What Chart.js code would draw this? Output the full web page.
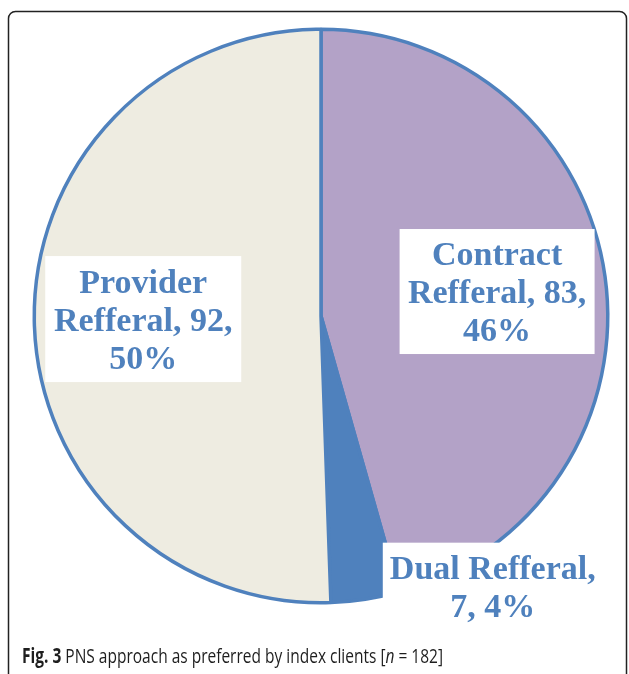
<!DOCTYPE html>
<html>
<head>
<meta charset="utf-8">
<script src="https://cdn.jsdelivr.net/npm/chart.js@4/dist/chart.umd.min.js"></script>
<style>
  html, body { margin: 0; padding: 0; background: #ffffff; }
  #wrap { width: 629px; height: 674px; position: relative; }
</style>
</head>
<body>
<div id="wrap"><canvas id="c" width="629" height="674"></canvas></div>
<script>
// ---- data ----
const categories = ['Contract Refferal', 'Dual Refferal', 'Provider Refferal'];
const counts = [83, 7, 92];
const percents = [46, 4, 50];
const captionParts = [
  { text: 'Fig. 3', style: 'bold' },
  { text: ' PNS approach as preferred by index clients [', style: 'normal' },
  { text: 'n', style: 'italic' },
  { text: ' = 182]', style: 'normal' }
];

// ---- styles ----
const sliceColors = ['#B3A2C7', '#4F81BD', '#EEECE1'];
const borderBlue = '#4F81BD';
// label placement: radial fraction & angle shift (deg) relative to slice mid-angle, box size
const labelPlacement = [
  { r: 0.62, dAng: 0, w: 195, h: 125 },
  { r: 1.118, dAng: -23.5, w: 220, h: 88 },
  { r: 0.62, dAng: 0, w: 196, h: 126 }
];

const labelFont = 'bold 34px "Liberation Serif", "Times New Roman", serif';
const lineH = 38;

function wrapLines(ctx, text, maxW) {
  const words = text.split(' ');
  const lines = [];
  let cur = '';
  for (const w of words) {
    const t = cur ? cur + ' ' + w : w;
    if (ctx.measureText(t).width > maxW && cur) { lines.push(cur); cur = w; }
    else cur = t;
  }
  if (cur) lines.push(cur);
  return lines;
}

const framePlugin = {
  id: 'frame',
  beforeDraw(chart) {
    const ctx = chart.ctx;
    ctx.save();
    ctx.fillStyle = '#ffffff';
    ctx.fillRect(0, 0, chart.width, chart.height);
    ctx.strokeStyle = '#222222';
    ctx.lineWidth = 1.5;
    const x = 8.5, y = 11.5, w = 618, h = 690, r = 7;
    ctx.beginPath();
    ctx.moveTo(x + r, y);
    ctx.lineTo(x + w - r, y);
    ctx.arcTo(x + w, y, x + w, y + r, r);
    ctx.lineTo(x + w, y + h - r);
    ctx.arcTo(x + w, y + h, x + w - r, y + h, r);
    ctx.lineTo(x + r, y + h);
    ctx.arcTo(x, y + h, x, y + h - r, r);
    ctx.lineTo(x, y + r);
    ctx.arcTo(x, y, x + r, y, r);
    ctx.stroke();
    ctx.restore();
  }
};

const labelPlugin = {
  id: 'boxLabels',
  afterDatasetsDraw(chart) {
    const ctx = chart.ctx;
    const meta = chart.getDatasetMeta(0);
    ctx.save();
    ctx.font = labelFont;
    meta.data.forEach((arc, i) => {
      const p = arc.getProps(['x', 'y', 'startAngle', 'endAngle', 'outerRadius'], true);
      const pl = labelPlacement[i];
      const mid = (p.startAngle + p.endAngle) / 2 + pl.dAng * Math.PI / 180;
      const cx = p.x + Math.cos(mid) * p.outerRadius * pl.r;
      const cy = p.y + Math.sin(mid) * p.outerRadius * pl.r;
      ctx.fillStyle = '#ffffff';
      ctx.fillRect(cx - pl.w / 2, cy - pl.h / 2, pl.w, pl.h);
      const text = categories[i] + ', ' + counts[i] + ', ' + percents[i] + '%';
      const lines = wrapLines(ctx, text, pl.w - 4);
      ctx.fillStyle = borderBlue;
      ctx.textAlign = 'center';
      ctx.textBaseline = 'alphabetic';
      const first = cy - (lines.length - 1) * lineH / 2 + 11.5;
      lines.forEach((ln, k) => ctx.fillText(ln, cx, first + k * lineH));
    });
    ctx.restore();
  }
};

const captionPlugin = {
  id: 'caption',
  afterDraw(chart) {
    const ctx = chart.ctx;
    ctx.save();
    const fam = '"Open Sans", "Noto Sans", sans-serif';
    const size = 20.5;
    const fontFor = s => (s === 'bold' ? 'bold ' : s === 'italic' ? 'italic ' : '') + size + 'px ' + fam;
    let total = 0;
    captionParts.forEach(p => { ctx.font = fontFor(p.style); total += ctx.measureText(p.text).width; });
    const targetW = 421, x0 = 22, base = 663;
    const sx = targetW / total;
    ctx.translate(x0, base);
    ctx.scale(sx, 1);
    ctx.fillStyle = '#1e1e1e';
    ctx.textBaseline = 'alphabetic';
    ctx.textAlign = 'left';
    let x = 0;
    captionParts.forEach(p => {
      ctx.font = fontFor(p.style);
      ctx.fillText(p.text, x, 0);
      x += ctx.measureText(p.text).width;
    });
    ctx.restore();
  }
};

new Chart(document.getElementById('c'), {
  type: 'pie',
  data: {
    labels: categories,
    datasets: [{
      data: counts,
      backgroundColor: sliceColors,
      borderColor: borderBlue,
      borderWidth: 3.5
    }]
  },
  options: {
    responsive: false,
    devicePixelRatio: 1,
    animation: false,
    layout: { padding: { left: 32.5, top: 27.5, right: 19.5, bottom: 69.5 } },
    plugins: {
      legend: { display: false },
      tooltip: { enabled: false },
      title: { display: false }
    }
  },
  plugins: [framePlugin, labelPlugin, captionPlugin]
});
</script>
</body>
</html>
